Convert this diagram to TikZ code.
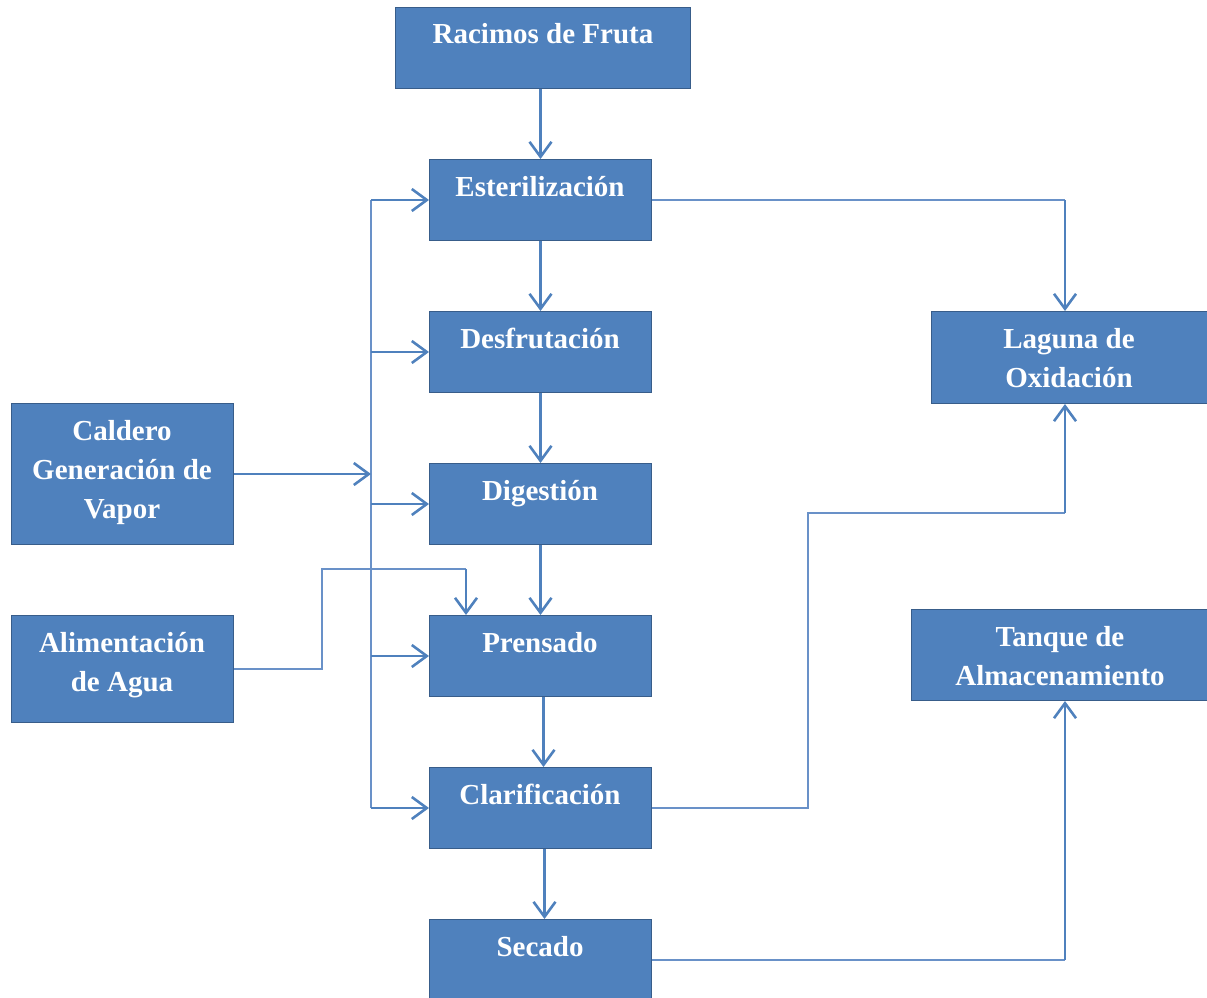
\documentclass[tikz,border=0pt]{standalone}
\usepackage{fontspec}
\setmainfont{Liberation Serif}
\usetikzlibrary{arrows.meta}
\definecolor{boxfill}{RGB}{79,129,189}
\definecolor{boxline}{RGB}{56,93,138}
\definecolor{conn}{RGB}{79,129,189}
\definecolor{connlight}{RGB}{105,145,200}
\tikzset{
 box/.style={draw=boxline, line width=1pt, fill=boxfill, inner sep=0pt, anchor=north west},
 lbl/.style={text=white, font=\bfseries\fontsize{29}{39}\selectfont, align=center, inner sep=0pt},
 arr/.style={draw=conn, line width=2.6pt, -{Straight Barb[length=15pt,width=22pt,line width=2.6pt]}},
 ln/.style={draw=connlight, line width=2pt},
}
\begin{document}
\begin{tikzpicture}[x=1pt,y=-1pt]
\useasboundingbox (0,0) rectangle (1207,998);
% boxes
\node[box, minimum width=295, minimum height=81] (rac) at (395,7) {};
\node[box, minimum width=222, minimum height=81] (est) at (429,159) {};
\node[box, minimum width=222, minimum height=81] (des) at (429,311) {};
\node[box, minimum width=222, minimum height=81] (dig) at (429,463) {};
\node[box, minimum width=222, minimum height=81] (pre) at (429,615) {};
\node[box, minimum width=222, minimum height=81] (cla) at (429,767) {};
\node[box, minimum width=222, minimum height=80] (sec) at (429,919) {};
\node[box, minimum width=222, minimum height=141] (cal) at (11,403) {};
\node[box, minimum width=222, minimum height=107] (ali) at (11,615) {};
\node[box, minimum width=276, minimum height=92] (lag) at (931,311) {};
\node[box, minimum width=296, minimum height=91] (tan) at (911,609) {};
% labels
\node[lbl, anchor=base] (trac) at (543,44) {Racimos de Fruta};
\node[lbl, anchor=base] (test) at (540,196) {Esterilización};
\node[lbl, anchor=base] (tdes) at (540,348) {Desfrutación};
\node[lbl, anchor=base] (tdig) at (540,500) {Digestión};
\node[lbl, anchor=base] (tpre) at (540,652) {Prensado};
\node[lbl, anchor=base] (tcla) at (540,804) {Clarificación};
\node[lbl, anchor=base] (tsec) at (540,956) {Secado};
\node[lbl, anchor=base] (tcal1) at (122,440) {Caldero};
\node[lbl, anchor=base] (tcal2) at (122,479) {Generación de};
\node[lbl, anchor=base] (tcal3) at (122,518) {Vapor};
\node[lbl, anchor=base] (tali1) at (122,652) {Alimentación};
\node[lbl, anchor=base] (tali2) at (122,691) {de Agua};
\node[lbl, anchor=base] (tlag1) at (1069,348) {Laguna de};
\node[lbl, anchor=base] (tlag2) at (1069,387) {Oxidación};
\node[lbl, anchor=base] (ttan1) at (1060,646) {Tanque de};
\node[lbl, anchor=base] (ttan2) at (1060,685) {Almacenamiento};
% helper coordinates
\coordinate (bus) at (371,0);
\coordinate (rc) at (1065,0);
\coordinate (cx) at (808,513);
\coordinate (ax) at (322,569);
\coordinate (px) at (466,0);
% main chain
\draw[arr] (rac.south -| est.north) -- (est.north);
\draw[arr] (est.south) -- (des.north);
\draw[arr] (des.south) -- (dig.north);
\draw[arr] (dig.south) -- (pre.north);
\draw[arr] ([xshift=3pt]pre.south) -- ([xshift=3pt]cla.north);
\draw[arr] ([xshift=4pt]cla.south) -- ([xshift=4pt]sec.north);
% steam bus
\draw[ln] (bus |- est.west) -- (bus |- cla.west);
\draw[arr] (cal.east) -- (bus |- cal.east);
\draw[arr] (bus |- est.west) -- (est.west);
\draw[arr] (bus |- des.west) -- (des.west);
\draw[arr] (bus |- dig.west) -- (dig.west);
\draw[arr] (bus |- pre.west) -- (pre.west);
\draw[arr] (bus |- cla.west) -- (cla.west);
% water feed
\draw[ln] (ali.east) -| (ax) -- (px |- ax);
\draw[arr] (px |- ax) -- (px |- pre.north);
% to laguna
\draw[ln] (est.east) -- (rc |- est.east);
\draw[arr] (rc |- est.east) -- (rc |- lag.north);
\draw[ln] (cla.east) -| (cx) -- (rc |- cx);
\draw[arr] (rc |- cx) -- (rc |- lag.south);
% to tanque
\draw[ln] (sec.east) -- (rc |- sec.east);
\draw[arr] (rc |- sec.east) -- (rc |- tan.south);
\end{tikzpicture}
\end{document}
